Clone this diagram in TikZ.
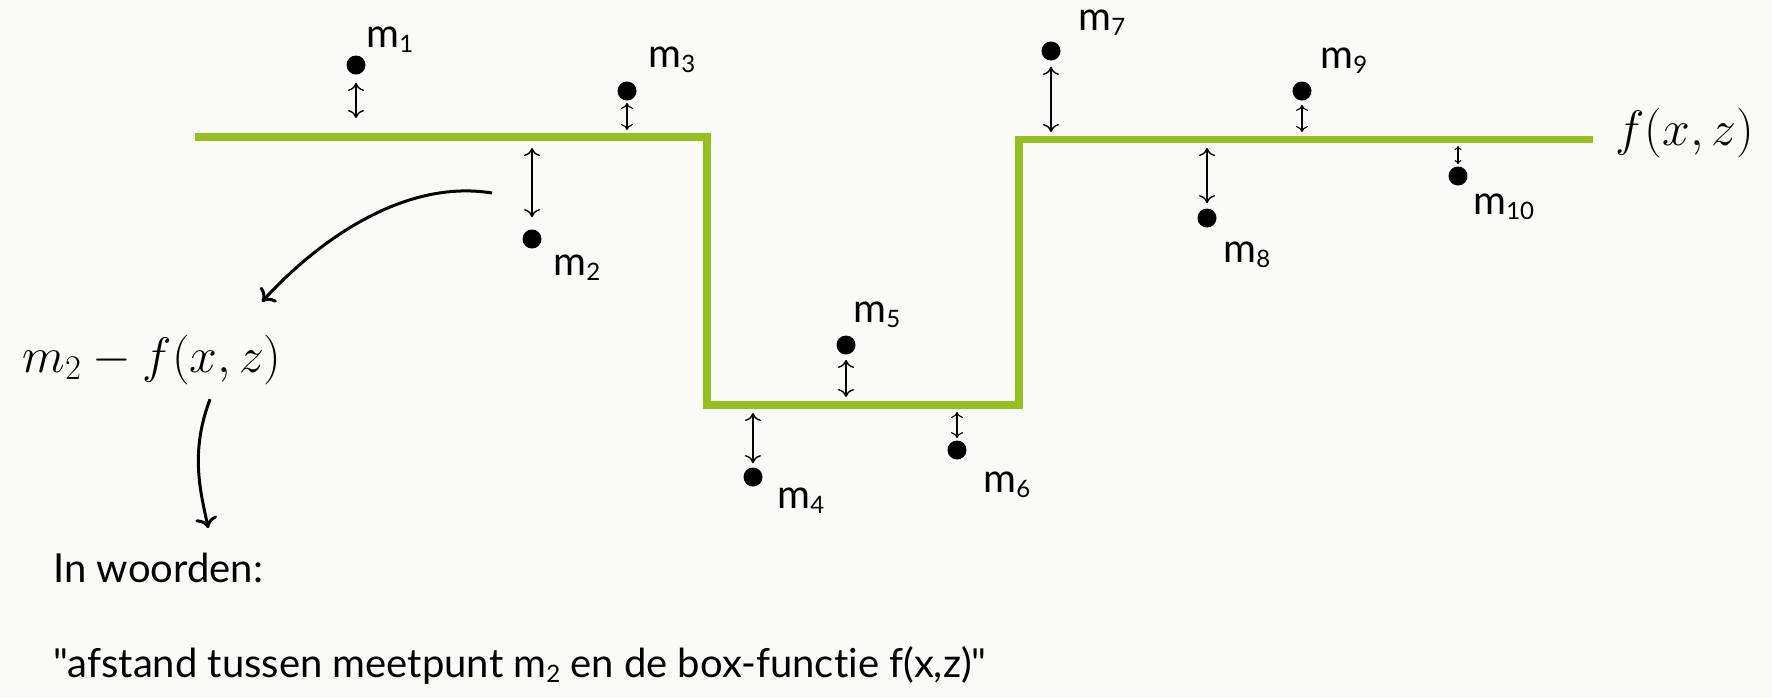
\documentclass[tikz,border=0pt]{standalone}
\usepackage{fontspec}
\usepackage{amsmath}
\usetikzlibrary{arrows.meta, positioning, calc}

\newfontfamily\labelfont{Lato}[Ligatures={NoCommon}]
\definecolor{boxgreen}{RGB}{149,193,31}
\definecolor{paper}{RGB}{250,250,248}
\newcommand{\msub}[1]{\raisebox{-2.5pt}{\fontsize{12}{12}\selectfont #1}}

\begin{document}
\begin{tikzpicture}[
      x=0.5pt, y=-0.5pt,
      meas/.style={circle, fill=black, inner sep=0pt, minimum size=9.5pt},
      lbl/.style={font=\labelfont\fontsize{20}{24}\selectfont, inner sep=0pt, anchor=base west},
      distarrow/.style={{Computer Modern Rightarrow[length=4pt,width=8pt]}-{Computer Modern Rightarrow[length=4pt,width=8pt]},
        line width=0.7pt, shorten <=2pt, shorten >=2pt},
      sdistarrow/.style={{Computer Modern Rightarrow[length=3pt,width=6pt]}-{Computer Modern Rightarrow[length=3pt,width=6pt]},
        line width=0.55pt, shorten <=1pt, shorten >=1.5pt},
      bendarrow/.style={-{Computer Modern Rightarrow[length=5.5pt,width=11pt]}, line width=1.5pt},
      boxline/.style={boxgreen, line width=3.75pt, line join=miter},
      bigmath/.style={font=\fontsize{27}{31}\selectfont, inner sep=0pt}
    ]
      \fill[paper] (0,0) rectangle (1772,698);
      \useasboundingbox (0,0) rectangle (1772,698);

      % box function
      \draw[boxline] (195,137) -- (707,137) -- (707,405) -- (1019,405) -- (1019,139.5) -- (1593,139.5);
      \node[bigmath, anchor=west] (fxz) at (1615,133) {$f(x,z)$};

      % measurement points
      \node[meas] (m1) at (356,65) {};
      \node[meas] (m2) at (532,239) {};
      \node[meas] (m3) at (627,91) {};
      \node[meas] (m4) at (753,477) {};
      \node[meas] (m5) at (846,345) {};
      \node[meas] (m6) at (957,450) {};
      \node[meas] (m7) at (1051,51) {};
      \node[meas] (m8) at (1207,218) {};
      \node[meas] (m9) at (1302,91) {};
      \node[meas] (m10) at (1458,176) {};

      \node[lbl] (l1) at (366,47) {m\msub{1}};
      \node[lbl] (l2) at (553,275) {m\msub{2}};
      \node[lbl] (l3) at (648,67) {m\msub{3}};
      \node[lbl] (l4) at (777,508) {m\msub{4}};
      \node[lbl] (l5) at (853,322) {m\msub{5}};
      \node[lbl] (l6) at (983,492) {m\msub{6}};
      \node[lbl] (l7) at (1078,30) {m\msub{7}};
      \node[lbl] (l8) at (1223,262) {m\msub{8}};
      \node[lbl] (l9) at (1320,68) {m\msub{9}};
      \node[lbl] (l10) at (1473,214) {m\msub{10}};

      % feet on the box function
      \coordinate (f1) at (356,133);
      \coordinate (f2) at (532,141);
      \coordinate (f3) at (627,133);
      \coordinate (f4) at (753,409);
      \coordinate (f5) at (846,401);
      \coordinate (f6) at (957,409);
      \coordinate (f7) at (1051,136);
      \coordinate (f8) at (1207,143);
      \coordinate (f9) at (1302,136);
      \coordinate (f10) at (1458,143);

      \draw[distarrow, shorten <=4pt, shorten >=7.5pt] (m1) -- (f1);
      \draw[distarrow, shorten <=6pt, shorten >=3.5pt] (m2) -- (f2);
      \draw[sdistarrow] (m3) -- (f3);
      \draw[distarrow] (m4) -- (f4);
      \draw[distarrow, shorten <=2.5pt] (m5) -- (f5);
      \draw[sdistarrow] (m6) -- (f6);
      \draw[distarrow, shorten <=3pt] (m7) -- (f7);
      \draw[distarrow, shorten <=2.5pt, shorten >=2.5pt] (m8) -- (f8);
      \draw[sdistarrow, shorten <=2pt, shorten >=2pt] (m9) -- (f9);
      \draw[sdistarrow, {Computer Modern Rightarrow[length=2pt,width=3.5pt]}-{Computer Modern Rightarrow[length=2pt,width=3.5pt]}] (m10) -- (f10);

      % explanation
      \node[bigmath] (diff) at (152,360) {$m_2 - f(x,z)$};
      \node[lbl] (words) at (53,582) {In woorden:};
      \node[lbl] (sentence) at (53,677) {"afstand tussen meetpunt m\msub{2} en de box-functie f(x,z)"};

      \coordinate (bendstart) at (492,193);
      \draw[bendarrow] (bendstart) .. controls +(-92,-15) and +(50,-55) .. ([shift={(-20,-33)}]diff.north east);
      \draw[bendarrow] ([shift={(58,14)}]diff.south) .. controls +(-20,53) and +(-8,-38) .. ([shift={(50,-24)}]words.north);
    \end{tikzpicture}
\end{document}
